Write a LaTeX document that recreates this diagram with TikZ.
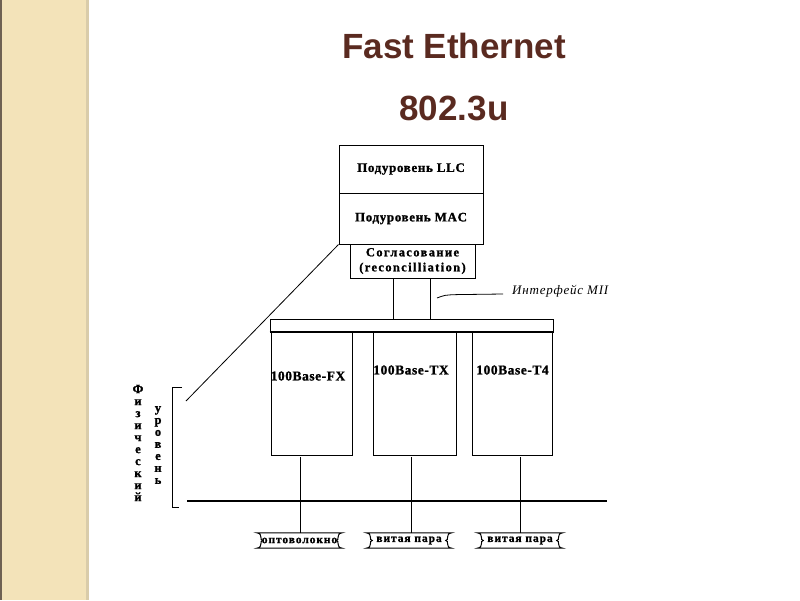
\documentclass[tikz,border=0pt]{standalone}
\usepackage{fontspec}
\setmainfont{Liberation Serif}[BoldFeatures={FakeBold=1.2}]
\newfontfamily\titlefont{Liberation Sans}
\newfontfamily\spacedA{Liberation Serif}[LetterSpace=5,BoldFeatures={FakeBold=1.2}]
\newfontfamily\spacedB{Liberation Serif}[LetterSpace=4,BoldFeatures={FakeBold=1.2}]
\newfontfamily\spacedC{Liberation Serif}[LetterSpace=11,BoldFeatures={FakeBold=1.2}]
\newfontfamily\spacedD{Liberation Serif}[LetterSpace=8,BoldFeatures={FakeBold=1.2}]
\newfontfamily\spacedE{Liberation Serif}[LetterSpace=6]
\usetikzlibrary{calc}
\definecolor{titlebrown}{HTML}{5A2A20}
\definecolor{sidebeige}{HTML}{F3E3B9}
\definecolor{sideedge}{HTML}{6E6152}
\definecolor{sideshadow}{HTML}{D9CCAA}
\newcommand\ribbonpath[1]{\draw[line width=1pt] (#1.north west) -- (#1.north east)
  .. controls +(-7,1) and +(4,0) .. ($(#1.east)+(-6,0)$)
  .. controls +(4,0) and +(-7,-1) .. (#1.south east) -- (#1.south west)
  .. controls +(7,-1) and +(-4,0) .. ($(#1.west)+(6,0)$)
  .. controls +(-4,0) and +(7,1) .. (#1.north west) -- cycle;}
\begin{document}
\begin{tikzpicture}[x=1pt,y=-1pt,
  layer/.style={draw, line width=1pt, inner sep=0pt},
  lbl/.style={font=\spacedA\bfseries\fontsize{13}{15}\selectfont},
  baselbl/.style={font=\spacedB\bfseries\fontsize{13.5}{15}\selectfont, inner sep=0pt},
  reclbl/.style={font=\spacedC\bfseries\fontsize{12.5}{15}\selectfont, align=center},
  ribbontext/.style={font=\spacedD\bfseries\fontsize{11.5}{12}\selectfont, inner sep=0pt, minimum width=85pt, minimum height=15pt},
  vlbl/.style={font=\bfseries\fontsize{12.5}{12}\selectfont, align=center, inner sep=0pt},
  wire/.style={line width=1.3pt},
  thin/.style={line width=0.8pt}]
\useasboundingbox (0,0) rectangle (800,600);
% side bar
\fill[sidebeige] (0,0) rectangle (88,600);
\fill[sideshadow] (86,0) rectangle (89,600);
\fill[sideedge] (0,0) rectangle (2,600);
% title
\node[font=\titlefont\bfseries\fontsize{35}{42}\selectfont, text=titlebrown, anchor=base] (title1) at (454,58) {Fast Ethernet};
\node[font=\titlefont\bfseries\fontsize{35}{42}\selectfont, text=titlebrown, anchor=base] (title2) at (454,120) {802.3u};
% upper stack
\node[layer, lbl, minimum width=144pt, minimum height=48pt] (llc) at (411,169) {Подуровень LLC};
\node[layer, lbl, minimum width=144pt, minimum height=51pt] (mac) at (411,218.5) {Подуровень MAC};
\node[layer, reclbl, minimum width=125pt, minimum height=34pt, inner sep=0pt] (rec) at (412.5,261) {Согласование\\(reconcilliation)};
% MII bar
\node[layer, minimum width=283pt, minimum height=12pt] (bar) at (411.5,325) {};
\draw[line width=2pt] (bar.south west) -- (bar.south east);
% PHY boxes
\node[layer, minimum width=81pt, minimum height=124pt] (fx) at (311.5,393) {};
\node[layer, minimum width=83pt, minimum height=124pt] (tx) at (414.5,393) {};
\node[layer, minimum width=80pt, minimum height=124pt] (t4) at (512,393) {};
\node[baselbl] (fxl) at (308,376) {100Base-FX};
\node[baselbl] (txl) at (411,370) {100Base-TX};
\node[baselbl] (t4l) at (512.5,370) {100Base-T4};
% rec -> bar
\coordinate (mA) at (393,0);
\coordinate (mB) at (430,0);
\draw[layer] (rec.south -| mA) -- (bar.north -| mA);
\draw[layer] (rec.south -| mB) -- (bar.north -| mB);
% MII label
\node[font=\spacedE\itshape\fontsize{13}{15}\selectfont, anchor=west, inner sep=0pt] (mii) at (512,291) {Интерфейс MII};
\coordinate (miiA) at (437,298);
\coordinate (miiB) at (503,294);
\draw[thin] (miiA) .. controls (445,295) .. (457,294.6) -- (miiB);
% diagonal and bracket
\coordinate (brk) at (186,401);
\draw[thin] (mac.south west) -- (brk);
\coordinate (brkT) at (182,387);
\coordinate (brkB) at (179,507);
\draw[thin] (brkT) -- (172.5,387) -- (172.5,507) -- (brkB);
% vertical labels
\node[vlbl] (phys) at (138,443) {Ф\\и\\з\\и\\ч\\е\\с\\к\\и\\й};
\node[vlbl] (urov) at (158,445) {у\\р\\о\\в\\е\\н\\ь};
% bus
\coordinate (busL) at (187,501);
\coordinate (busR) at (607,501);
\draw[wire] (busL) -- (busR);
% ribbons
\node[ribbontext] (r1) at (299.5,540.5) {оптоволокно};
\node[ribbontext] (r2) at (409,540.5) {витая пара};
\node[ribbontext] (r3) at (520,540.5) {витая пара};
\ribbonpath{r1}
\ribbonpath{r2}
\ribbonpath{r3}
\coordinate (d1) at (300.5,457);
\coordinate (d2) at (411.5,457);
\coordinate (d3) at (520.5,457);
\draw[wire] (d1) -- (r1.north -| d1);
\draw[wire] (d2) -- (r2.north -| d2);
\draw[wire] (d3) -- (r3.north -| d3);
\end{tikzpicture}
\end{document}
